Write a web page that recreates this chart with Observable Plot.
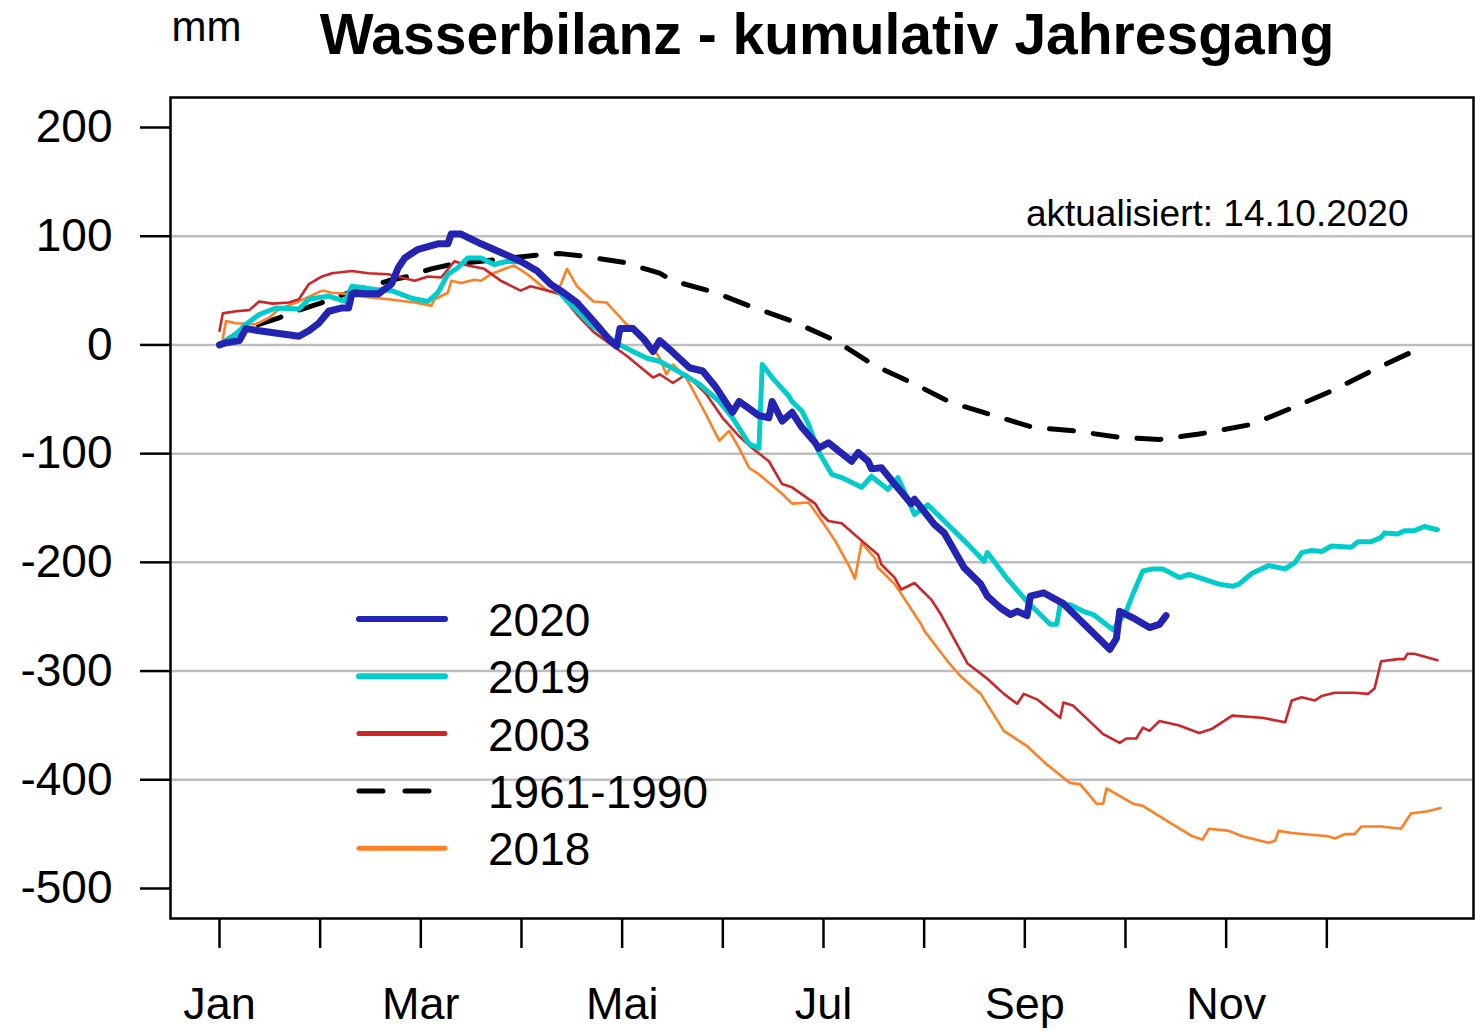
<!DOCTYPE html>
<html>
<head>
<meta charset="utf-8">
<script src="https://cdn.jsdelivr.net/npm/d3@7"></script>
<script src="https://cdn.jsdelivr.net/npm/@observablehq/plot@0.6"></script>
<style>
  html, body { margin: 0; padding: 0; background: white; }
  #wrap { position: relative; width: 1475px; height: 1031px; font-family: "Liberation Sans", Arial, sans-serif; }
  #legend { position: absolute; left: 0; top: 0; pointer-events: none; }
</style>
</head>
<body>
<div id="wrap"></div>
<script>
// ---- Data (day of year, cumulative water balance in mm) ----
const days2020 = [0,2,6,8,12,24,27,30,33,37,39,40,48,52,54,56,60,66,69,70,73,79,85,91,96,100,104,108,113,118,120,121,125,128,131,133,136,142,146,150,155,157,163,166,167,170,173,176,180,181,184,191,193,196,197,200,204,209,210,216,219,225,230,232,236,239,241,244,245,249,255,261,269,271,272,276,281,284,286];
const vals2020 = [0,2,4,15,13,8,13,20,31,34,34,47,47,56,71,80,88,93,93,102,102,93,85,77,68,56,48,39,22,4,-1,15,15,6,-6,4,-4,-21,-24,-39,-62,-52,-65,-67,-52,-70,-62,-76,-90,-95,-90,-107,-99,-107,-114,-113,-128,-146,-142,-165,-173,-205,-220,-231,-242,-248,-245,-249,-231,-228,-238,-256,-280,-270,-245,-251,-260,-257,-249];

const days2019 = [0,5,8,12,17,24,27,33,38,40,47,52,58,63,66,69,72,75,79,83,87,92,96,103,112,121,129,133,139,145,151,155,160,163,164,167,172,173,176,178,181,185,188,194,197,202,205,210,214,218,226,231,232,238,244,251,253,254,257,261,264,270,274,276,279,282,285,290,293,302,306,308,312,317,322,325,327,330,333,336,342,344,348,351,352,356,358,361,364,368];
const vals2019 = [0,10,19,28,34,33,42,45,40,54,51,50,43,40,48,65,71,80,80,74,77,76,68,47,19,0,-12,-15,-25,-36,-52,-67,-91,-95,-18,-30,-47,-52,-61,-73,-98,-119,-122,-131,-121,-133,-122,-156,-147,-159,-183,-199,-191,-215,-236,-257,-257,-239,-239,-245,-248,-262,-245,-229,-208,-206,-206,-214,-211,-220,-222,-220,-210,-203,-206,-200,-191,-189,-190,-185,-186,-181,-181,-177,-173,-174,-171,-171,-167,-170];

const days2003 = [0,1,5,9,12,16,21,24,27,31,34,40,45,51,55,59,63,67,71,75,80,85,91,94,99,103,108,113,123,131,133,137,141,147,152,157,161,166,170,173,180,182,184,188,194,199,200,204,206,210,215,218,226,229,232,237,241,243,247,254,255,258,267,272,274,277,279,281,284,290,296,300,303,306,315,322,324,327,331,333,337,343,347,349,351,356,358,359,361,368];
const vals2003 = [13,29,31,32,40,38,39,42,56,63,66,68,66,65,62,59,63,62,77,73,70,59,50,54,50,47,28,12,-10,-30,-27,-35,-27,-45,-67,-84,-95,-107,-128,-131,-146,-156,-162,-164,-180,-193,-202,-214,-225,-219,-234,-248,-293,-300,-307,-321,-330,-321,-326,-343,-329,-332,-358,-366,-362,-362,-352,-355,-346,-350,-357,-353,-347,-341,-343,-347,-327,-324,-327,-323,-320,-320,-321,-316,-291,-289,-289,-284,-284,-290];

const days2018 = [1,2,5,11,15,18,24,31,34,39,45,51,59,64,65,69,70,73,77,79,82,87,89,93,99,102,105,108,113,117,123,129,133,135,137,141,147,151,154,157,160,163,170,173,178,182,186,190,192,194,198,199,204,206,212,213,220,224,230,237,244,250,257,260,265,267,268,276,279,288,294,297,299,305,309,317,319,320,324,335,337,340,343,345,351,357,360,365,369];
const vals2018 = [6,22,20,19,25,33,40,50,48,47,44,42,39,36,42,48,59,57,60,59,65,71,73,65,50,47,70,54,40,39,19,6,-12,-27,-18,-30,-64,-88,-79,-95,-113,-119,-137,-146,-145,-162,-180,-202,-215,-182,-196,-205,-220,-229,-257,-263,-291,-305,-321,-355,-369,-386,-403,-404,-422,-422,-408,-422,-424,-441,-452,-455,-445,-447,-452,-458,-456,-447,-449,-452,-454,-450,-450,-443,-443,-445,-431,-429,-426];

const daysClim = [0,7,18,25,31,39,51,57,64,70,79,88,97,103,109,122,133,137,150,160,173,186,198,210,221,234,246,258,272,284,296,312,324,337,348,362,364];
const valsClim = [0,14,25,33,39,48,59,63,70,74,77,80,83,84,82,76,66,59,48,36,22,4,-19,-36,-53,-65,-76,-79,-85,-87,-82,-73,-58,-41,-24,-4,0];

const seriesNames = ["2020","2019","2003","1961-1990","2018"];
const seriesColors = ["#2424B2","#00CCCC","#CD2628","#000000","#FF7F24"];

const yTicks = [200,100,0,-100,-200,-300,-400,-500];
const gridValues = [100,0,-100,-200,-300,-400];
const monthTickDays = d3.range(12).map(i => i * 365 / 12);
const monthLabels = ["Jan","","Mar","","Mai","","Jul","","Sep","","Nov",""];

const titleText = "Wasserbilanz - kumulativ Jahresgang";
const unitText = "mm";
const updateText = "aktualisiert: 14.10.2020";

// ---- Build tables ----
const toRows = (days, vals) => days.map((d, i) => ({day: d, value: vals[i]}));
const d2020 = toRows(days2020, vals2020);
const d2019 = toRows(days2019, vals2019);
const d2003 = toRows(days2003, vals2003);
const d2018 = toRows(days2018, vals2018);
const dClim = toRows(daysClim, valsClim);
const labelMap = new Map(monthTickDays.map((d, i) => [d, monthLabels[i]]));

const font = "'Liberation Sans', Arial, sans-serif";

const chart = Plot.plot({
  width: 1475,
  height: 1031,
  marginLeft: 170,
  marginRight: 2,
  marginTop: 97,
  marginBottom: 113,
  style: {fontFamily: font, background: "white", color: "black"},
  x: {domain: [-14.8, 378.9]},
  y: {domain: [-527.6, 227.6]},
  marks: [
    Plot.ruleY(gridValues, {stroke: "#bebebe", strokeWidth: 2.5}),
    Plot.line(dClim, {x: "day", y: "value", stroke: seriesColors[3], strokeWidth: 5, strokeDasharray: "24,20", curve: "linear"}),
    Plot.line(d2018, {x: "day", y: "value", stroke: seriesColors[4], strokeWidth: 2.6, strokeLinejoin: "round"}),
    Plot.line(d2003, {x: "day", y: "value", stroke: seriesColors[2], strokeWidth: 2.6, strokeLinejoin: "round"}),
    Plot.line(d2019, {x: "day", y: "value", stroke: seriesColors[1], strokeWidth: 5, strokeLinejoin: "round"}),
    Plot.line(d2020, {x: "day", y: "value", stroke: seriesColors[0], strokeWidth: 7, strokeLinejoin: "round"}),
    Plot.axisY(yTicks, {tickSize: 30, tickPadding: 28, fontSize: 46, strokeWidth: 2.5, label: null, tickFormat: d => String(d)}),
    Plot.axisX(monthTickDays, {tickSize: 30, tickPadding: 39, fontSize: 45, strokeWidth: 2.5, label: null, tickFormat: d => labelMap.get(d)}),
    Plot.frame({stroke: "black", strokeWidth: 2.5}),
    Plot.text([updateText], {frameAnchor: "top-right", textAnchor: "end", lineAnchor: "bottom", dx: -65, dy: 128, fontSize: 37, fill: "black"}),
    Plot.text([titleText], {frameAnchor: "top", lineAnchor: "bottom", dx: 5, dy: -44, fontSize: 57, fontWeight: "bold", fill: "black"}),
    Plot.text([unitText], {frameAnchor: "top-left", textAnchor: "start", lineAnchor: "bottom", dx: 1, dy: -57, fontSize: 42, fill: "black"})
  ]
});

const wrap = document.getElementById("wrap");
wrap.appendChild(chart);

// ---- Legend (overlay) ----
const legendWidths = [6, 6, 5, 5, 5];
const legend = d3.select(wrap).append("svg")
  .attr("id", "legend")
  .attr("width", 1475).attr("height", 1031);
seriesNames.forEach((name, i) => {
  const y = 619 + i * 57.3;
  legend.append("line")
    .attr("x1", 359).attr("x2", 445).attr("y1", y).attr("y2", y)
    .attr("stroke", seriesColors[i])
    .attr("stroke-width", legendWidths[i])
    .attr("stroke-linecap", "round")
    .attr("stroke-dasharray", name === "1961-1990" ? "24,22" : null);
  legend.append("text")
    .attr("x", 488).attr("y", y + 17)
    .attr("font-family", font)
    .attr("font-size", 46)
    .attr("fill", "black")
    .text(name);
});
</script>
</body>
</html>
